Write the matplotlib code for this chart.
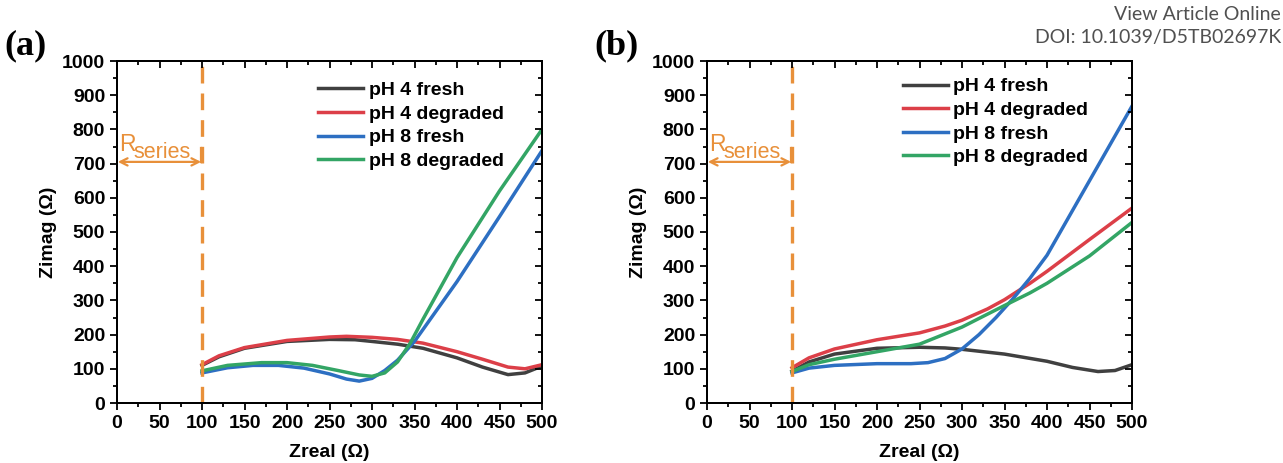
import numpy as np
import matplotlib.pyplot as plt
from matplotlib.ticker import MultipleLocator

# Nyquist data (Zreal, Zimag in ohm)
labels = ['pH 4 fresh', 'pH 4 degraded', 'pH 8 fresh', 'pH 8 degraded']
colors = ['#404040', '#dc3f48', '#2d6fc2', '#33a565']

# panel (a)
a_x_ph4f = [100, 120, 150, 200, 250, 280, 300, 330, 360, 400, 430, 460, 480, 500]
a_y_ph4f = [110, 135, 160, 180, 186, 185, 180, 172, 160, 132, 105, 83, 88, 108]
a_x_ph4d = [100, 120, 150, 200, 250, 270, 300, 330, 360, 400, 430, 460, 480, 500]
a_y_ph4d = [112, 138, 162, 183, 193, 195, 192, 186, 175, 150, 128, 105, 100, 112]
a_x_ph8f = [100, 130, 160, 190, 220, 250, 270, 285, 300, 315, 330, 350, 400, 450, 500]
a_y_ph8f = [88, 103, 110, 110, 102, 85, 70, 64, 72, 95, 125, 180, 355, 545, 738]
a_x_ph8d = [100, 130, 170, 200, 230, 260, 285, 300, 315, 330, 345, 360, 400, 450, 500]
a_y_ph8d = [94, 110, 118, 118, 110, 95, 82, 78, 88, 120, 175, 245, 425, 620, 800]

# panel (b)
b_x_ph4f = [100, 120, 150, 200, 250, 280, 300, 350, 400, 430, 460, 480, 500]
b_y_ph4f = [93, 120, 143, 160, 163, 161, 157, 143, 122, 104, 92, 95, 112]
b_x_ph4d = [100, 120, 150, 200, 250, 280, 300, 330, 350, 380, 400, 450, 500]
b_y_ph4d = [103, 132, 158, 185, 205, 225, 242, 275, 302, 350, 385, 478, 570]
b_x_ph8f = [100, 120, 150, 200, 240, 260, 280, 300, 320, 340, 360, 380, 400, 450, 500]
b_y_ph8f = [88, 102, 110, 115, 115, 118, 130, 158, 200, 250, 305, 365, 432, 650, 868]
b_x_ph8d = [100, 120, 150, 200, 250, 300, 350, 380, 400, 450, 500]
b_y_ph8d = [92, 112, 128, 150, 172, 222, 285, 322, 350, 430, 528]

panels = [
    ('(a)', [(a_x_ph4f, a_y_ph4f), (a_x_ph4d, a_y_ph4d), (a_x_ph8f, a_y_ph8f), (a_x_ph8d, a_y_ph8d)]),
    ('(b)', [(b_x_ph4f, b_y_ph4f), (b_x_ph4d, b_y_ph4d), (b_x_ph8f, b_y_ph8f), (b_x_ph8d, b_y_ph8d)]),
]

orange = '#e8903a'
plt.rcParams['font.family'] = ['Liberation Sans', 'DejaVu Sans']

fig = plt.figure(figsize=(12.83, 4.63), dpi=100)
lefts = [117 / 1283, 707 / 1283]
legend_anchor = [(0.473, 0.94), (0.461, 0.951)]


def set_ticks(axis_obj, major, minor):
    axis_obj.set_major_locator(MultipleLocator(major))
    axis_obj.set_minor_locator(MultipleLocator(minor))


for i, (tag, series) in enumerate(panels):
    ax = fig.add_axes([lefts[i], 60 / 463, 425 / 1283, 342 / 463])
    for (x, y), lab, c in zip(series, labels, colors):
        ax.plot(x, y, color=c, lw=2.5, label=lab)

    ax.axvline(100, color=orange, lw=2.4, ls=(0, (5, 3)))
    ax.annotate('', xy=(1, 705), xytext=(99, 705),
                arrowprops=dict(arrowstyle='<->', color=orange, lw=1.6,
                                mutation_scale=13, shrinkA=0, shrinkB=0))
    ax.plot([99, 99], [705, 745], color=orange, lw=1.6)
    ax.text(3, 755, 'R', color=orange, fontsize=16.5, ha='left', va='center')
    ax.text(19.5, 733, 'series', color=orange, fontsize=15.5, ha='left', va='center')

    ax.set_xlim(0, 500)
    ax.set_ylim(0, 1000)
    set_ticks(ax.xaxis, 50, 25)
    set_ticks(ax.yaxis, 100, 50)
    ax.tick_params(which='both', direction='out', width=1.3, top=False, right=False,
                   labelsize=14)
    ax.tick_params(which='major', length=5)
    ax.tick_params(which='minor', length=3)
    for lab_ in ax.get_xticklabels() + ax.get_yticklabels():
        lab_.set_fontweight('bold')

    # mirrored inward ticks on the top and right spines
    axt = ax.twiny()
    axt.set_xlim(0, 500)
    set_ticks(axt.xaxis, 50, 25)
    axt.tick_params(which='both', direction='in', width=1.3, labeltop=False)
    axt.tick_params(which='major', length=5)
    axt.tick_params(which='minor', length=3)
    axr = ax.twinx()
    axr.set_ylim(0, 1000)
    set_ticks(axr.yaxis, 100, 50)
    axr.tick_params(which='both', direction='in', width=1.3, labelright=False)
    axr.tick_params(which='major', length=5)
    axr.tick_params(which='minor', length=3)
    for a_ in (ax, axt, axr):
        for s in a_.spines.values():
            s.set_linewidth(1.3)

    ax.set_xlabel('Zreal (Ω)', fontsize=14, fontweight='bold', labelpad=9)
    ax.set_ylabel('Zimag (Ω)', fontsize=14, fontweight='bold', labelpad=4)

    ax.legend(loc='upper left', bbox_to_anchor=legend_anchor[i], frameon=False,
              prop={'weight': 'bold', 'size': 14}, handlelength=2.3,
              handletextpad=0.3, labelspacing=0.31, borderaxespad=0, borderpad=0)

    fig.text(lefts[i] - 113 / 1283, 1 - 46 / 463, tag, fontsize=26, fontweight='bold',
             family='Liberation Serif', ha='left', va='center')

fig.text(0.9985, 1 - 14 / 463, 'View Article Online', ha='right', va='center',
         fontsize=14, color='#505050', family='Lato')
fig.text(0.9985, 1 - 37 / 463, 'DOI: 10.1039/D5TB02697K', ha='right', va='center',
         fontsize=14, color='#505050', family='Lato')

fig.savefig('out.png', dpi=100)
